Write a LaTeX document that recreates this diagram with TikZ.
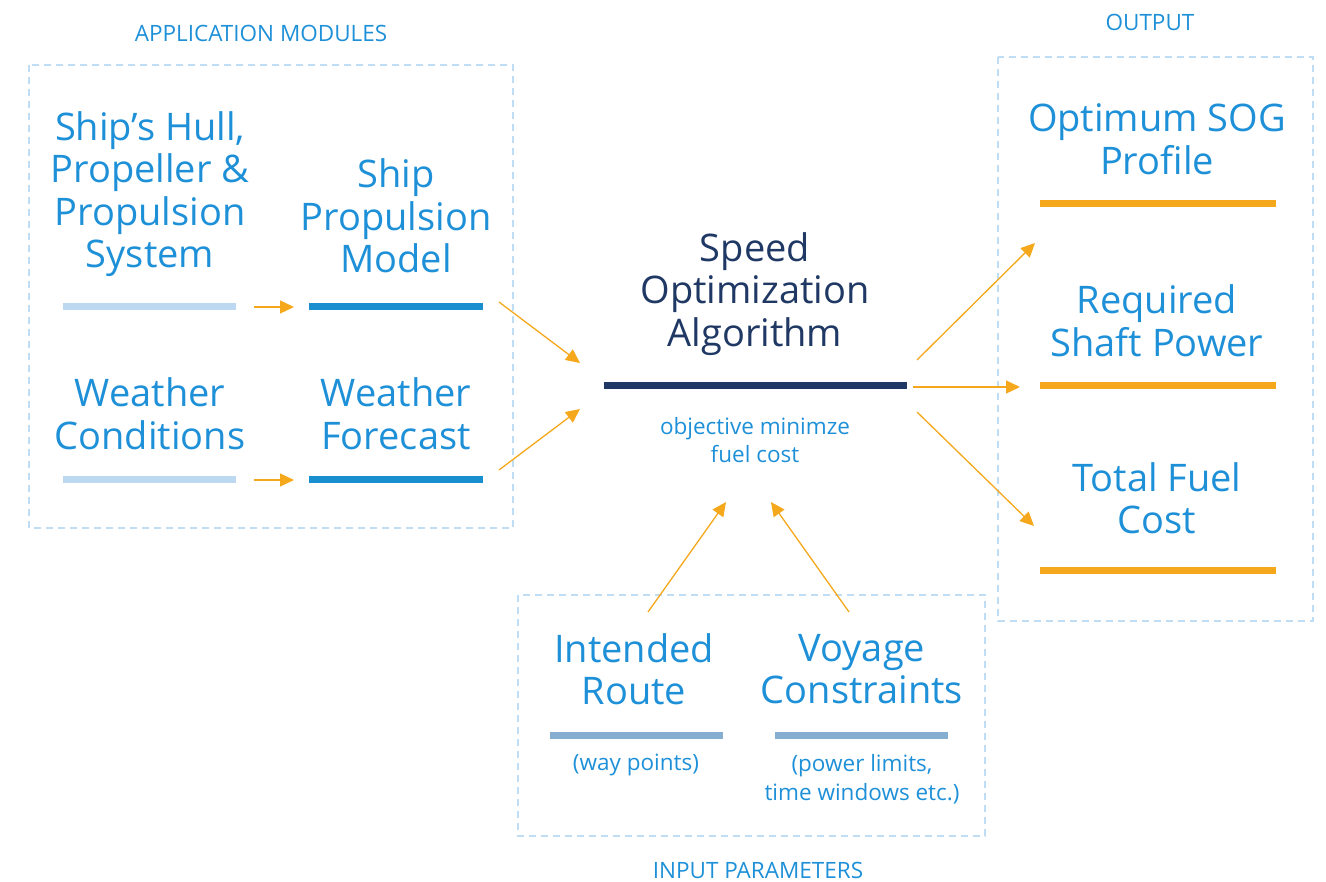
\documentclass[tikz,border=0pt]{standalone}
\usepackage{fontspec}
\setmainfont{Open Sans}
\usetikzlibrary{arrows.meta}
\definecolor{tblue}{HTML}{1E90D8}
\definecolor{lbar}{HTML}{BDD9F2}
\definecolor{dbar}{HTML}{1A8FD0}
\definecolor{navy}{HTML}{1F3864}
\definecolor{orng}{HTML}{F5A81C}
\definecolor{dashc}{HTML}{BFDDF5}
\definecolor{sbar}{HTML}{86AED0}
\tikzset{
  big/.style={text=tblue, font=\fontsize{38}{42.5}\selectfont, align=center, inner sep=0pt},
  small/.style={text=tblue, font=\fontsize{22.5}{28.5}\selectfont, align=center, inner sep=0pt},
  grp/.style={draw=dashc, line width=1.3pt, dash pattern=on 7pt off 5pt},
  bar/.style={line width=7pt},
  arr/.style={draw=orng, line width=1.3pt, -{Triangle[length=14pt,width=13pt]}},
}
\begin{document}
\begin{tikzpicture}[x=1pt,y=-1pt]
\useasboundingbox (0,0) rectangle (1326,882);
% group boxes
\draw[grp] (29,65) rectangle (513,528);
\draw[grp] (998,57) rectangle (1313,621);
\draw[grp] (518,595) rectangle (985,836);
\node[small] (tApp) at (261,33) {APPLICATION MODULES};
\node[small] (tOut) at (1150,22) {OUTPUT};
\node[small] (tIn) at (758,870) {INPUT PARAMETERS};
% left modules
\node[big] (hull) at (150,194) {Ship’s Hull,\\Propeller \&\\Propulsion\\System};
\node[big] (spm) at (396,216) {Ship\\Propulsion\\Model};
\node[big] (wc) at (150,414) {Weather\\Conditions};
\node[big] (wf) at (396,414) {Weather\\Forecast};
\draw[bar, lbar] (63,307) -- (236,307);
\draw[bar, dbar] (309,307) -- (483,307);
\draw[bar, lbar] (63,480) -- (236,480);
\draw[bar, dbar] (309,480) -- (483,480);
\coordinate (a1s) at (254,307); \coordinate (a1e) at (294,307);
\coordinate (a2s) at (254,480); \coordinate (a2e) at (294,480);
\draw[arr] (a1s) -- (a1e);
\draw[arr] (a2s) -- (a2e);
% center
\node[big, text=navy] (soa) at (755,294) {Speed\\Optimization\\Algorithm};
\draw[bar, navy] (604,386) -- (907,386);
\node[small] (obj) at (755,440) {objective minimze\\fuel cost};
\coordinate (c1s) at (499,302); \coordinate (c1e) at (580,363);
\coordinate (c2s) at (499,470); \coordinate (c2e) at (580,409);
\draw[arr] (c1s) -- (c1e);
\draw[arr] (c2s) -- (c2e);
% outputs
\node[big] (sog) at (1157,139) {Optimum SOG\\Profile};
\node[big] (shaft) at (1157,321) {Required\\Shaft Power};
\node[big] (fuel) at (1157,498) {Total Fuel\\Cost};
\draw[bar, orng] (1040,204) -- (1276,204);
\draw[bar, orng] (1040,386) -- (1276,386);
\draw[bar, orng] (1040,570) -- (1276,570);
\coordinate (o1s) at (917,360); \coordinate (o1e) at (1035,243);
\coordinate (o2s) at (913,387); \coordinate (o2e) at (1020,387);
\coordinate (o3s) at (917,412); \coordinate (o3e) at (1034,526);
\draw[arr] (o1s) -- (o1e);
\draw[arr] (o2s) -- (o2e);
\draw[arr] (o3s) -- (o3e);
% inputs
\node[big] (route) at (634,669) {Intended\\Route};
\node[big] (voy) at (862,669) {Voyage\\Constraints};
\draw[bar, sbar] (550,735) -- (723,735);
\draw[bar, sbar] (775,735) -- (948,735);
\node[small] (wp) at (636,765) {(way points)};
\node[small] (pl) at (862,779) {(power limits,\\time windows etc.)};
\coordinate (i1s) at (648,612); \coordinate (i1e) at (726,502);
\coordinate (i2s) at (849,612); \coordinate (i2e) at (771,502);
\draw[arr] (i1s) -- (i1e);
\draw[arr] (i2s) -- (i2e);
\end{tikzpicture}
\end{document}
